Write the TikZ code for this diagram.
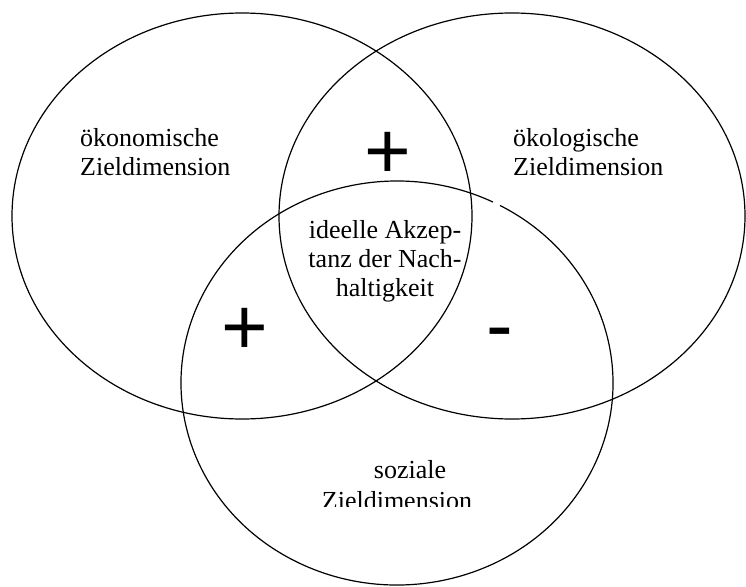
\documentclass[tikz,border=0pt]{standalone}
\usepackage{fontspec}
\setmainfont{Liberation Serif}
\newfontfamily\signfont{Liberation Sans}
\usepackage{tikz}

\begin{document}
\begin{tikzpicture}[x=1pt, y=-1pt,
    zone/.style={line width=1.2pt},
    zonetext/.style={inner sep=0pt, font=\fontsize{26}{29}\selectfont},
    signmark/.style={inner sep=0pt, anchor=base, font=\signfont\fontsize{80}{80}\selectfont}]
    % Frame
    \useasboundingbox (0,0) rectangle (746,586);

    % Economic ellipse
    \draw[zone] (242,216) ellipse [x radius=230, y radius=203];
    \node[zonetext, anchor=north west, align=left] (econ) at (80,128) {ökonomische\\Zieldimension};

    % Ecological ellipse
    \draw[zone] (512,216) ellipse [x radius=233, y radius=203];
    \node[zonetext, anchor=north west, align=left] (ecol) at (513,128) {ökologische\\Zieldimension};

    % Social ellipse (small break near the ecological label)
    \coordinate (socc) at (397,383);
    \draw[zone] (socc) ++(-61.5:216 and 202) arc [start angle=-61.5, end angle=296.4, x radius=216, y radius=202];
    \begin{scope}
        \clip (300,440) rectangle (500,506.5);
        \node[zonetext, font=\fontsize{26}{31}\selectfont, anchor=north, align=center] (social) at (397,460) {\hspace*{26pt}soziale\\Zieldimension};
    \end{scope}

    % Core
    \node[zonetext, anchor=north, align=center] (core) at (385,220) {ideelle Akzep-\\tanz der Nach-\\haltigkeit};

    % Signs
    \node[signmark] (plustop) at (388,178) {+};
    \node[signmark] (plusleft) at (245,354) {+};
    \node[signmark] (minusright) at (500,352) {-};
\end{tikzpicture}
\end{document}
